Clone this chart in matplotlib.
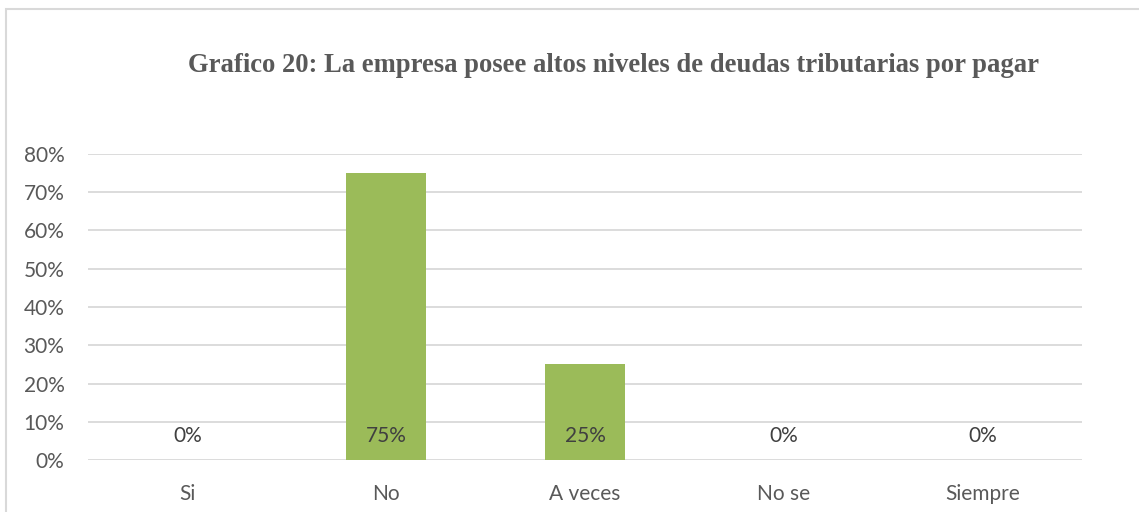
import matplotlib
matplotlib.use("Agg")
import matplotlib.pyplot as plt
import matplotlib.patches as mpatches
from matplotlib.ticker import FuncFormatter, MultipleLocator

# ── data ──────────────────────────────────────────────────────────────────────
categories = ["Si", "No", "A veces", "No se", "Siempre"]
values     = [0.00, 0.75, 0.25, 0.00, 0.00]
title      = "Grafico 20: La empresa posee altos niveles de deudas tributarias por pagar"

# ── palette ───────────────────────────────────────────────────────────────────
BAR    = "#9BBB59"
FG     = "#595959"
LABEL  = "#404040"
GRID   = "#D9D9D9"

fig = plt.figure(figsize=(11.39, 5.12), dpi=100)
fig.patch.set_facecolor("white")

# chart border (cut off on the right and bottom like the source)
fig.patches.append(mpatches.Rectangle((6 / 1139, -0.2), 2.0, 0.2 + (512 - 9) / 512,
                                      transform=fig.transFigure, fill=False,
                                      edgecolor=GRID, linewidth=1.5))

ax = fig.add_axes([88 / 1139, 1 - 460 / 512, (1082 - 88) / 1139, (460 - 154) / 512])
xs = range(len(categories))
ax.bar(xs, values, color=BAR, width=0.40, linewidth=0, zorder=3)

for x, v in zip(xs, values):
    ax.annotate(f"{v:.0%}", (x, 0), xytext=(0, 17), textcoords="offset points",
                ha="center", va="center", fontsize=15, color=LABEL,
                family="Lato", zorder=4)

ax.set_xlim(-0.5, len(categories) - 0.5)
ax.set_ylim(0, 0.8)
ax.yaxis.set_major_locator(MultipleLocator(0.1))
ax.yaxis.set_major_formatter(FuncFormatter(lambda v, _: f"{v:.0%}"))
ax.set_xticks(list(xs))
ax.set_xticklabels(categories)
ax.yaxis.grid(True, color=GRID, linewidth=1.3, zorder=0)
ax.set_axisbelow(True)
for spine in ax.spines.values():
    spine.set_visible(False)
ax.tick_params(length=0, colors=FG, labelsize=15)
ax.tick_params(axis="y", pad=17)
ax.tick_params(axis="x", pad=17)
for lab in ax.get_xticklabels() + ax.get_yticklabels():
    lab.set_family("Lato")

fig.text(613 / 1139, 1 - 65 / 512, title, ha="center", va="center",
         fontsize=19.2, fontweight="bold", color=FG, family="Liberation Serif")

fig.savefig("out.png", dpi=100)
